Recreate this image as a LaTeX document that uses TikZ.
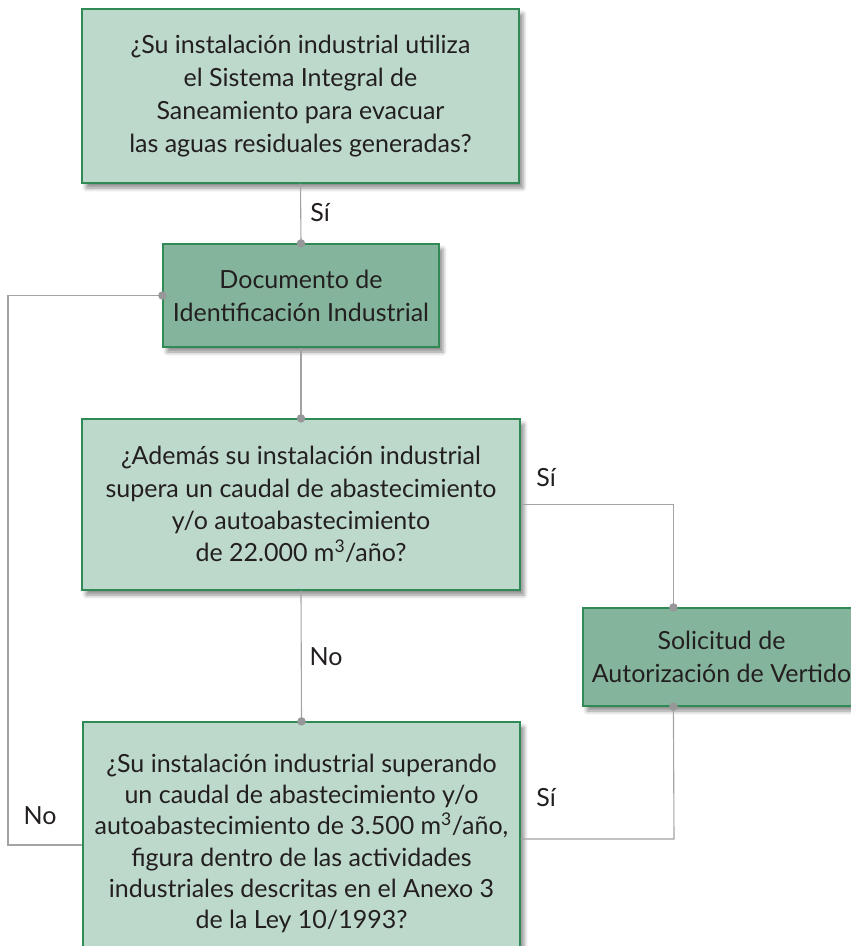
\documentclass[tikz,border=0pt]{standalone}
\usepackage{fontspec}
\setmainfont{Lato}
\usetikzlibrary{shadows.blur}
\definecolor{boxlight}{HTML}{BDD9CB}
\definecolor{boxdark}{HTML}{84B59C}
\definecolor{boxedge}{HTML}{2F8A55}
\definecolor{linegrey}{HTML}{A3A3A3}
\definecolor{jointgrey}{HTML}{97979A}
\definecolor{inkgrey}{HTML}{231F20}
\tikzset{
  qbox/.style={draw=boxedge, line width=1.2pt, fill=boxlight, align=center,
    text=inkgrey, inner sep=0pt, font=\fontsize{25}{33}\selectfont,
    blur shadow={shadow xshift=4pt, shadow yshift=-5pt,
      shadow blur radius=4pt, shadow opacity=45}},
  abox/.style={qbox, fill=boxdark},
  lnk/.style={draw=linegrey, line width=1.1pt},
  lbl/.style={text=inkgrey, font=\fontsize{25}{30}\selectfont, inner sep=0pt},
  joint/.style={circle, fill=jointgrey, inner sep=0pt, minimum size=8.5pt}
}
\begin{document}
\begin{tikzpicture}[x=1pt, y=-1pt]
  \useasboundingbox (0,0) rectangle (851,946);
  \node[qbox, minimum width=437pt, minimum height=174pt] (q1) at (300.5,96)
    {¿Su instalación industrial utiliza\\el Sistema Integral de\\Saneamiento para evacuar\\las aguas residuales generadas?};
  \node[abox, minimum width=276pt, minimum height=103pt] (doc) at (301,295.5)
    {Documento de\\Identificación Industrial};
  \node[qbox, font=\fontsize{25}{32.3}\selectfont, minimum width=438pt, minimum height=171pt] (q2) at (301,504.5)
    {¿Además su instalación industrial\\supera un caudal de abastecimiento\\y/o autoabastecimiento\\de 22.000 m\textsuperscript{3}/año?};
  \node[abox, minimum width=277pt, minimum height=98pt] (sol) at (721.5,657)
    {Solicitud de\\Autorización de Vertido};
  \node[qbox, font=\fontsize{25}{31.3}\selectfont, minimum width=437pt, minimum height=243pt] (q3) at (301.5,843.5)
    {¿Su instalación industrial superando\\un caudal de abastecimiento y/o\\autoabastecimiento de 3.500 m\textsuperscript{3}/año,\\figura dentro de las actividades\\industriales descritas en el Anexo 3\\de la Ley 10/1993?};

  \coordinate (solin) at ([xshift=91pt]sol.north west);
  \coordinate (solout) at ([xshift=91pt]sol.south west);
  \coordinate (lfar) at (8,845);
  \coordinate (rfar) at (674,839);

  \draw[lnk] (q1.south) -- (doc.north);
  \draw[lnk] (doc.west) -| (lfar) -- (lfar -| q3.west);
  \draw[lnk] (doc.south) -- (q2.north);
  \draw[lnk] (q2.east) -- (q2.east -| solin) -- (solin);
  \draw[lnk] (q2.south) -- (q3.north);
  \draw[lnk] (solout) -- (rfar) -- (rfar -| q3.east);

  \node[joint] (j1) at (doc.north) {};
  \node[joint] (j2) at (doc.west) {};
  \node[joint] (j3) at (q2.north) {};
  \node[joint] (j4) at (solin) {};
  \node[joint] (j5) at (q3.north) {};
  \node[joint] (j6) at (solout) {};

  \node[lbl] (si1) at (320,213) {Sí};
  \node[lbl] (si2) at (546,478) {Sí};
  \node[lbl] (si3) at (546,798) {Sí};
  \node[lbl] (no1) at (326,657) {No};
  \node[lbl] (no2) at (40,816) {No};
\end{tikzpicture}
\end{document}
